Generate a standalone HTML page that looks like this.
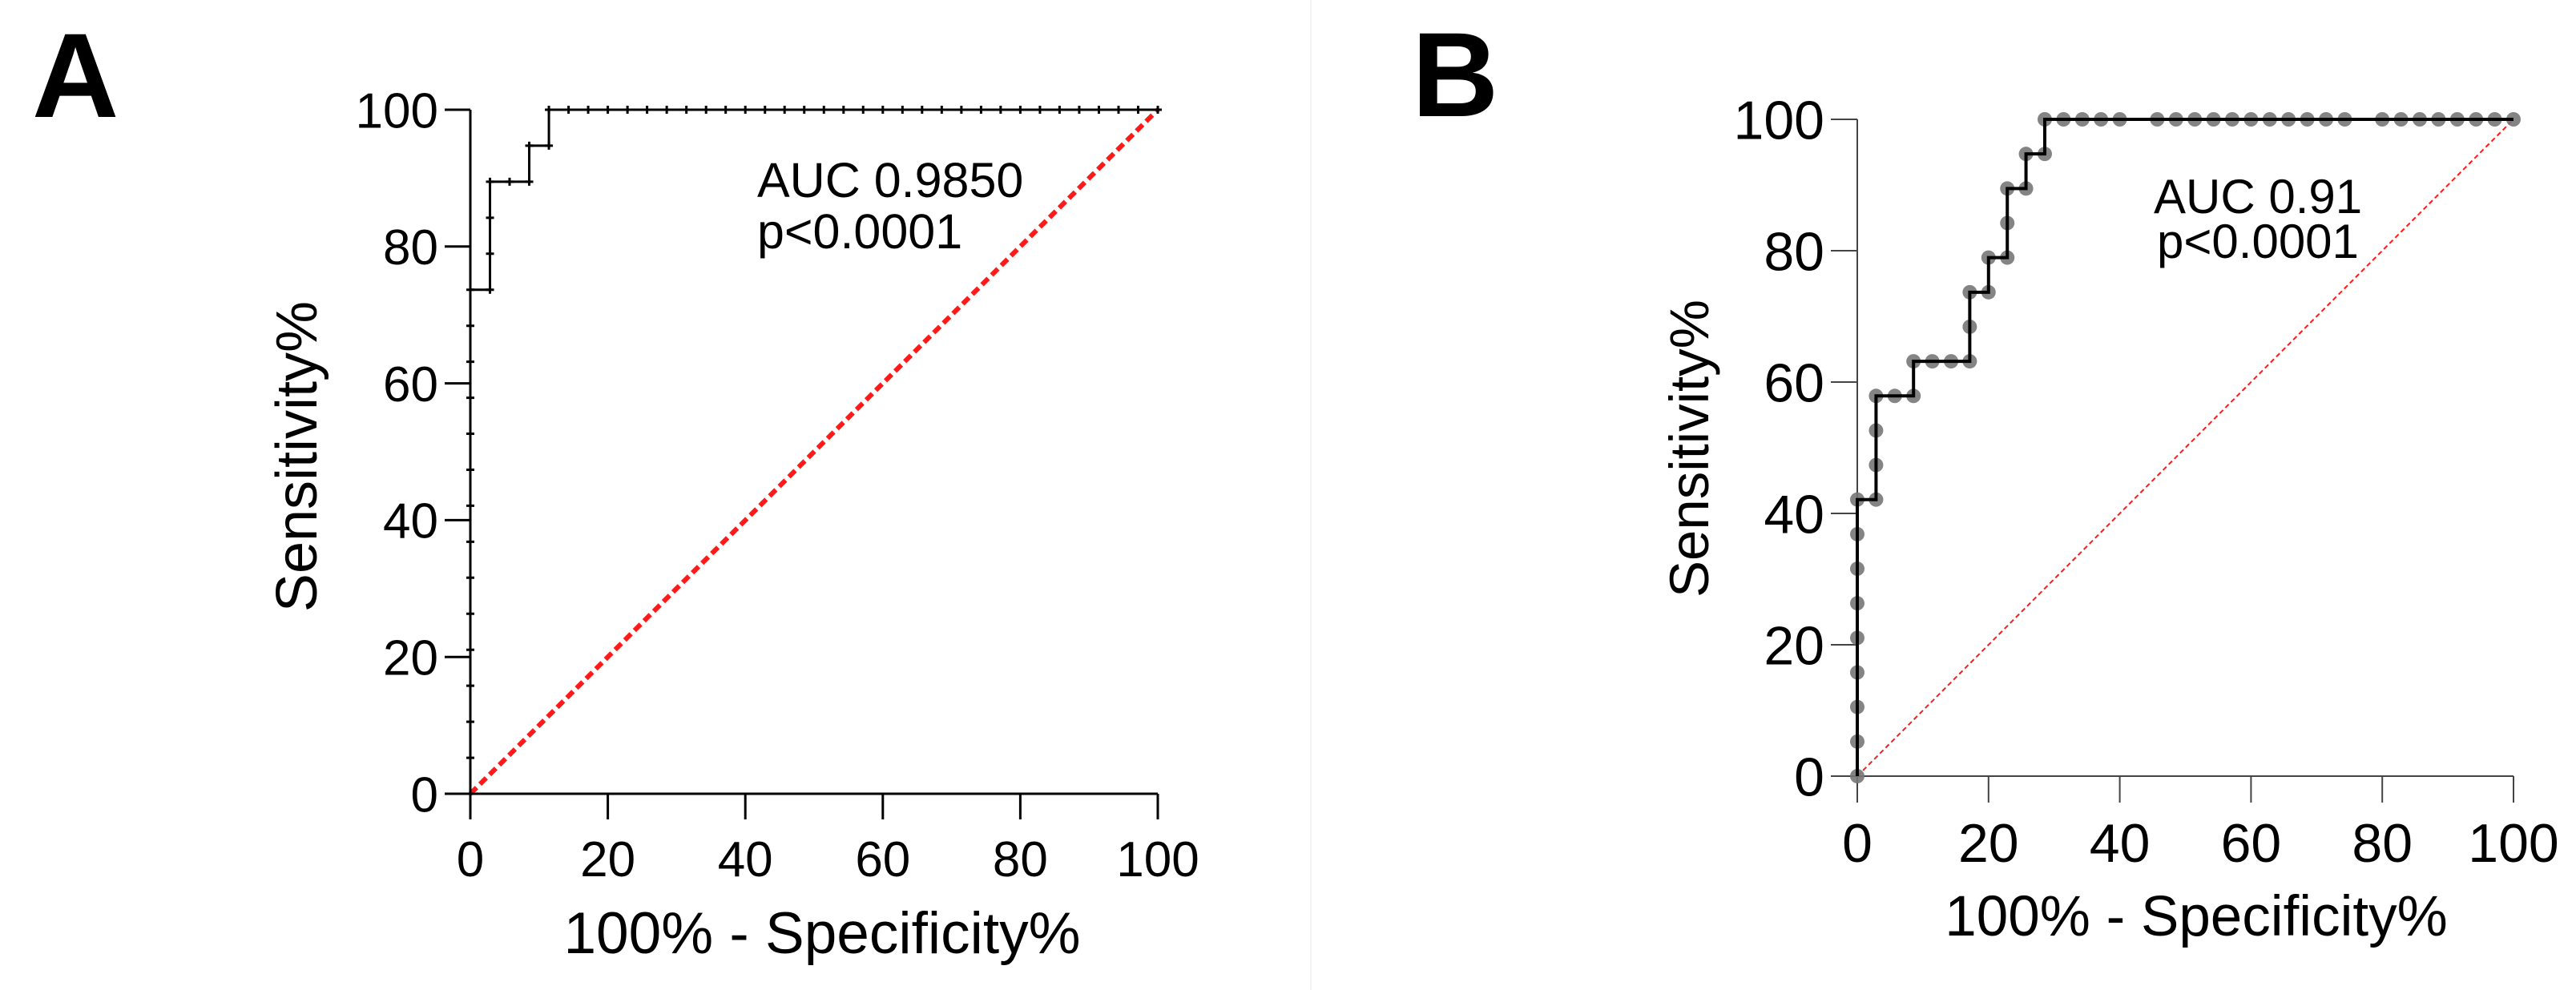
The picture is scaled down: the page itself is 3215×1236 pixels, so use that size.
<!DOCTYPE html>
<html><head><meta charset="utf-8"><style>
html,body{margin:0;padding:0;background:#fff;}
svg{display:block;font-family:"Liberation Sans",Arial,sans-serif;}
</style></head><body>
<svg id="chart" width="3215" height="1236" viewBox="0 0 3215 1236" xmlns="http://www.w3.org/2000/svg">
<line x1="1636" y1="0" x2="1636" y2="1236" stroke="#f3f3f3" stroke-width="2"/>
<text x="40" y="146" font-size="150" font-weight="bold">A</text>
<text x="1762" y="145" font-size="150" font-weight="bold">B</text>
<g id="pa"></g>
<g id="pb"></g>
</svg>
<script>
const ticks = [0, 20, 40, 60, 80, 100];
const tickLabels = ["0", "20", "40", "60", "80", "100"];
const aFpr = [0,0,0,0,0,0,0,0,0,0,0,0,0,0,0,2.86,2.86,2.86,2.86,5.71,8.57,8.57,11.43,11.43,14.29,17.14,20,22.86,25.71,28.57,31.43,34.29,37.14,40,42.86,45.71,48.57,51.43,54.29,57.14,60,62.86,65.71,68.57,71.43,74.29,77.14,80,82.86,85.71,88.57,91.43,94.29,97.14,100];
const aTpr = [0,5.26,10.53,15.79,21.05,26.32,31.58,36.84,42.11,47.37,52.63,57.89,63.16,68.42,73.68,73.68,78.95,84.21,89.47,89.47,89.47,94.74,94.74,100,100,100,100,100,100,100,100,100,100,100,100,100,100,100,100,100,100,100,100,100,100,100,100,100,100,100,100,100,100,100,100];
const bFpr = [0,0,0,0,0,0,0,0,0,2.86,2.86,2.86,2.86,5.71,8.57,8.57,11.43,14.29,17.14,17.14,17.14,20,20,22.86,22.86,22.86,25.71,25.71,28.57,28.57,31.43,34.29,37.14,40,45.71,48.57,51.43,54.29,57.14,60,62.86,65.71,68.57,71.43,74.29,80,82.86,85.71,88.57,91.43,94.29,97.14,100];
const bTpr = [0,5.26,10.53,15.79,21.05,26.32,31.58,36.84,42.11,42.11,47.37,52.63,57.89,57.89,57.89,63.16,63.16,63.16,63.16,68.42,73.68,73.68,78.95,78.95,84.21,89.47,89.47,94.74,94.74,100,100,100,100,100,100,100,100,100,100,100,100,100,100,100,100,100,100,100,100,100,100,100,100];

const NS = "http://www.w3.org/2000/svg";
function mk(parent, tag, attrs) {
  const e = document.createElementNS(NS, tag);
  for (const k in attrs) e.setAttribute(k, attrs[k]);
  parent.appendChild(e);
  return e;
}

function drawPanel(g, cfg, fpr, tpr) {
  const sx = v => cfg.x0 + (cfg.x1 - cfg.x0) * v / 100;
  const sy = v => cfg.y0 - (cfg.y0 - cfg.y1) * v / 100;
  let ax = mk(g, "line", {x1: sx(0), y1: sy(0), x2: sx(0), y2: sy(100), stroke: cfg.axisColor, "stroke-width": cfg.axisW});
  
  
  ax = mk(g, "line", {x1: sx(0), y1: sy(0), x2: sx(100), y2: sy(0), stroke: cfg.axisColor, "stroke-width": cfg.axisW});
  
  
  ticks.forEach((t, i) => {
    const yt = mk(g, "line", {x1: sx(0) - cfg.tickLen, y1: sy(t), x2: sx(0), y2: sy(t), stroke: cfg.axisColor, "stroke-width": cfg.axisW});
    
    
    const xt = mk(g, "line", {x1: sx(t), y1: sy(0), x2: sx(t), y2: sy(0) + cfg.tickLen, stroke: cfg.axisColor, "stroke-width": cfg.axisW});
    
    
    const yl = mk(g, "text", {x: sx(0) - cfg.tickLen - 8, y: sy(t) + cfg.fs * 0.36, "text-anchor": "end", "font-size": cfg.fs});
    yl.textContent = tickLabels[i];
    
    
    const xl = mk(g, "text", {x: sx(t), y: cfg.xlabY, "text-anchor": "middle", "font-size": cfg.fs});
    xl.textContent = tickLabels[i];
    
    
  });
  const ref = mk(g, "line", {x1: sx(0), y1: sy(0), x2: sx(100), y2: sy(100), stroke: "#ff1a1a", "stroke-width": cfg.refW, "stroke-dasharray": cfg.refDash});
  
  
  let d = "M" + sx(fpr[0]) + " " + sy(tpr[0]);
  for (let i = 1; i < fpr.length; i++) {
    d += " L" + sx(fpr[i]) + " " + sy(tpr[i - 1]) + " L" + sx(fpr[i]) + " " + sy(tpr[i]);
  }
  const mg = mk(g, "g", {});
  
  
  const roc = mk(g, "path", {d: d, fill: "none", stroke: "#000", "stroke-width": cfg.lineW});
  
  
  fpr.forEach((f, i) => {
    let m;
    if (cfg.dots) {
      m = mk(mg, "circle", {cx: sx(f), cy: sy(tpr[i]), r: 9, fill: "#777", opacity: 0.9});
    } else {
      const x = sx(f), y = sy(tpr[i]);
      m = mk(g, "path", {d: "M" + (x - 5) + " " + y + " H" + (x + 5) + " M" + x + " " + (y - 5) + " V" + (y + 5), stroke: "#000", "stroke-width": 3});
    }
    
    
  });
  const xt = mk(g, "text", {x: cfg.xtX, y: cfg.xtY, "text-anchor": "middle", "font-size": cfg.tfs});
  xt.textContent = "100% - Specificity%";
  
  
  const yt = mk(g, "text", {x: 0, y: 0, "text-anchor": "middle", "font-size": cfg.ytfs, transform: "translate(" + cfg.ytX + "," + cfg.ytY + ") rotate(-90)"});
  yt.textContent = "Sensitivity%";
  
  
  cfg.ann.forEach((s, i) => {
    const a = mk(g, "text", {x: cfg.annX[i], y: cfg.annY[i], "text-anchor": "start", "font-size": cfg.afs});
    a.textContent = s;
    
    
  });
}

drawPanel(document.getElementById("pa"), {
  x0: 587, x1: 1445, y0: 991, y1: 137, axisColor: "#000", axisW: 3, tickLen: 32,
  fs: 62, xlabY: 1094, refW: 6, refDash: "11 6", lineW: 3, dots: false,
  tfs: 73, ytfs: 72, xtX: 1026, xtY: 1190, ytX: 395, ytY: 570,
  ann: ["AUC 0.9850", "p<0.0001"], annX: [945, 945], annY: [246, 310], afs: 61
}, aFpr, aTpr);

drawPanel(document.getElementById("pb"), {
  x0: 2318, x1: 3137, y0: 969, y1: 149, axisColor: "#444", axisW: 2, tickLen: 33,
  fs: 68, xlabY: 1076, refW: 2, refDash: "6 4", lineW: 4, dots: true,
  tfs: 71, ytfs: 69, xtX: 2741, xtY: 1168, ytX: 2132, ytY: 560,
  ann: ["AUC 0.91", "p<0.0001"], annX: [2688, 2692], annY: [266, 322], afs: 60
}, bFpr, bTpr);
</script>
</body></html>
